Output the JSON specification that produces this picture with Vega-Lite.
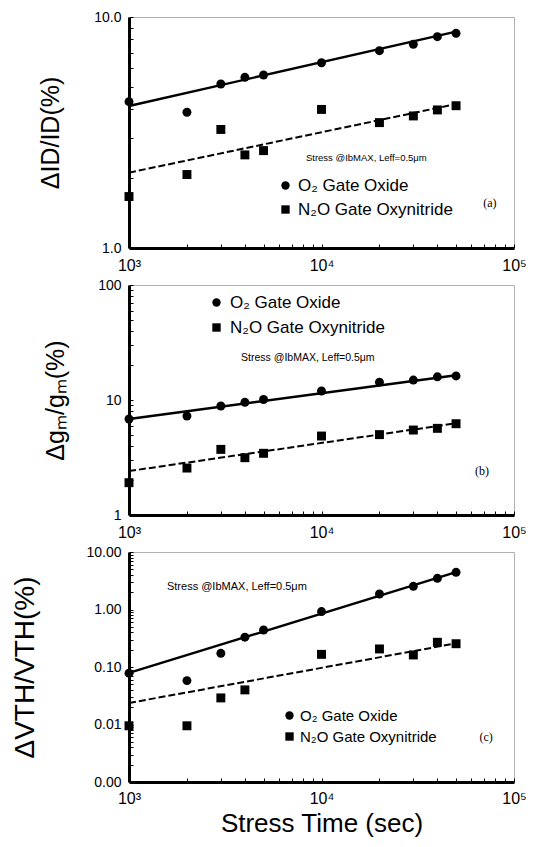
{
  "$schema": "https://vega.github.io/schema/vega-lite/v6.json",
  "background": "white",
  "padding": {"left": 10, "top": 9, "right": 5, "bottom": 3},
  "spacing": 37,
  "bounds": "flush",
  "config": {
    "font": "Liberation Sans",
    "view": {"stroke": "#b0b0b0", "strokeWidth": 1},
    "axis": {
      "grid": false,
      "domainColor": "black",
      "domainWidth": 3,
      "tickColor": "black",
      "tickWidth": 1,
      "labelColor": "black",
      "titleColor": "black",
      "labelFont": "Liberation Sans",
      "titleFont": "Liberation Sans",
      "titleFontWeight": "normal"
    },
    "legend": {"orient": "none", "title": null, "labelColor": "black", "padding": 0, "labelFont": "Liberation Sans", "labelLimit": 400}
  },
  "resolve": {
    "scale": {"x": "independent", "y": "independent", "shape": "independent"},
    "legend": {"shape": "independent"}
  },
  "datasets": {
    "pts": [
      {"panel": "a", "material": "O₂ Gate Oxide", "time": 1000, "value": 4.3},
      {"panel": "a", "material": "O₂ Gate Oxide", "time": 2000, "value": 3.87},
      {"panel": "a", "material": "O₂ Gate Oxide", "time": 3000, "value": 5.13},
      {"panel": "a", "material": "O₂ Gate Oxide", "time": 4000, "value": 5.48},
      {"panel": "a", "material": "O₂ Gate Oxide", "time": 5000, "value": 5.61},
      {"panel": "a", "material": "O₂ Gate Oxide", "time": 10000, "value": 6.34},
      {"panel": "a", "material": "O₂ Gate Oxide", "time": 20000, "value": 7.15},
      {"panel": "a", "material": "O₂ Gate Oxide", "time": 30000, "value": 7.62},
      {"panel": "a", "material": "O₂ Gate Oxide", "time": 40000, "value": 8.22},
      {"panel": "a", "material": "O₂ Gate Oxide", "time": 50000, "value": 8.5},
      {"panel": "a", "material": "N₂O Gate Oxynitride", "time": 1000, "value": 1.67},
      {"panel": "a", "material": "N₂O Gate Oxynitride", "time": 2000, "value": 2.08},
      {"panel": "a", "material": "N₂O Gate Oxynitride", "time": 3000, "value": 3.26},
      {"panel": "a", "material": "N₂O Gate Oxynitride", "time": 4000, "value": 2.53},
      {"panel": "a", "material": "N₂O Gate Oxynitride", "time": 5000, "value": 2.64},
      {"panel": "a", "material": "N₂O Gate Oxynitride", "time": 10000, "value": 3.98},
      {"panel": "a", "material": "N₂O Gate Oxynitride", "time": 20000, "value": 3.49},
      {"panel": "a", "material": "N₂O Gate Oxynitride", "time": 30000, "value": 3.73},
      {"panel": "a", "material": "N₂O Gate Oxynitride", "time": 40000, "value": 3.96},
      {"panel": "a", "material": "N₂O Gate Oxynitride", "time": 50000, "value": 4.13},
      {"panel": "b", "material": "O₂ Gate Oxide", "time": 1000, "value": 6.84},
      {"panel": "b", "material": "O₂ Gate Oxide", "time": 2000, "value": 7.26},
      {"panel": "b", "material": "O₂ Gate Oxide", "time": 3000, "value": 8.87},
      {"panel": "b", "material": "O₂ Gate Oxide", "time": 4000, "value": 9.55},
      {"panel": "b", "material": "O₂ Gate Oxide", "time": 5000, "value": 10.1},
      {"panel": "b", "material": "O₂ Gate Oxide", "time": 10000, "value": 11.97},
      {"panel": "b", "material": "O₂ Gate Oxide", "time": 20000, "value": 14.3},
      {"panel": "b", "material": "O₂ Gate Oxide", "time": 30000, "value": 14.9},
      {"panel": "b", "material": "O₂ Gate Oxide", "time": 40000, "value": 15.9},
      {"panel": "b", "material": "O₂ Gate Oxide", "time": 50000, "value": 16.2},
      {"panel": "b", "material": "N₂O Gate Oxynitride", "time": 1000, "value": 1.91},
      {"panel": "b", "material": "N₂O Gate Oxynitride", "time": 2000, "value": 2.56},
      {"panel": "b", "material": "N₂O Gate Oxynitride", "time": 3000, "value": 3.72},
      {"panel": "b", "material": "N₂O Gate Oxynitride", "time": 4000, "value": 3.15},
      {"panel": "b", "material": "N₂O Gate Oxynitride", "time": 5000, "value": 3.44},
      {"panel": "b", "material": "N₂O Gate Oxynitride", "time": 10000, "value": 4.86},
      {"panel": "b", "material": "N₂O Gate Oxynitride", "time": 20000, "value": 5.0},
      {"panel": "b", "material": "N₂O Gate Oxynitride", "time": 30000, "value": 5.48},
      {"panel": "b", "material": "N₂O Gate Oxynitride", "time": 40000, "value": 5.67},
      {"panel": "b", "material": "N₂O Gate Oxynitride", "time": 50000, "value": 6.22},
      {"panel": "c", "material": "O₂ Gate Oxide", "time": 1000, "value": 0.078},
      {"panel": "c", "material": "O₂ Gate Oxide", "time": 2000, "value": 0.058},
      {"panel": "c", "material": "O₂ Gate Oxide", "time": 3000, "value": 0.173},
      {"panel": "c", "material": "O₂ Gate Oxide", "time": 4000, "value": 0.33},
      {"panel": "c", "material": "O₂ Gate Oxide", "time": 5000, "value": 0.44},
      {"panel": "c", "material": "O₂ Gate Oxide", "time": 10000, "value": 0.92},
      {"panel": "c", "material": "O₂ Gate Oxide", "time": 20000, "value": 1.86},
      {"panel": "c", "material": "O₂ Gate Oxide", "time": 30000, "value": 2.53},
      {"panel": "c", "material": "O₂ Gate Oxide", "time": 40000, "value": 3.49},
      {"panel": "c", "material": "O₂ Gate Oxide", "time": 50000, "value": 4.43},
      {"panel": "c", "material": "N₂O Gate Oxynitride", "time": 1000, "value": 0.0095},
      {"panel": "c", "material": "N₂O Gate Oxynitride", "time": 2000, "value": 0.0095},
      {"panel": "c", "material": "N₂O Gate Oxynitride", "time": 3000, "value": 0.029},
      {"panel": "c", "material": "N₂O Gate Oxynitride", "time": 4000, "value": 0.04},
      {"panel": "c", "material": "N₂O Gate Oxynitride", "time": 10000, "value": 0.166},
      {"panel": "c", "material": "N₂O Gate Oxynitride", "time": 20000, "value": 0.206},
      {"panel": "c", "material": "N₂O Gate Oxynitride", "time": 30000, "value": 0.162},
      {"panel": "c", "material": "N₂O Gate Oxynitride", "time": 40000, "value": 0.269},
      {"panel": "c", "material": "N₂O Gate Oxynitride", "time": 50000, "value": 0.254}
    ],
    "fits": [
      {"panel": "a", "material": "O₂ Gate Oxide", "time": 1000, "value": 4.12},
      {"panel": "a", "material": "O₂ Gate Oxide", "time": 50000, "value": 8.64},
      {"panel": "a", "material": "N₂O Gate Oxynitride", "time": 1000, "value": 2.12},
      {"panel": "a", "material": "N₂O Gate Oxynitride", "time": 50000, "value": 4.2},
      {"panel": "b", "material": "O₂ Gate Oxide", "time": 1000, "value": 6.84},
      {"panel": "b", "material": "O₂ Gate Oxide", "time": 50000, "value": 16.4},
      {"panel": "b", "material": "N₂O Gate Oxynitride", "time": 1000, "value": 2.41},
      {"panel": "b", "material": "N₂O Gate Oxynitride", "time": 50000, "value": 6.27},
      {"panel": "c", "material": "O₂ Gate Oxide", "time": 1000, "value": 0.079},
      {"panel": "c", "material": "O₂ Gate Oxide", "time": 50000, "value": 4.45},
      {"panel": "c", "material": "N₂O Gate Oxynitride", "time": 1000, "value": 0.0237},
      {"panel": "c", "material": "N₂O Gate Oxynitride", "time": 50000, "value": 0.258}
    ],
    "notes": [
      {"panel": "a", "kind": "stress", "label": "Stress @IbMAX, Leff=0.5μm", "time": 8300, "value": 2.45},
      {"panel": "a", "kind": "tag", "label": "(a)", "time": 75000, "value": 1.57},
      {"panel": "b", "kind": "stress", "label": "Stress @IbMAX, Leff=0.5μm", "time": 3820, "value": 23.2},
      {"panel": "b", "kind": "tag", "label": "(b)", "time": 68200, "value": 2.41},
      {"panel": "c", "kind": "stress", "label": "Stress @IbMAX, Leff=0.5μm", "time": 1575, "value": 2.5},
      {"panel": "c", "kind": "tag", "label": "(c)", "time": 71600, "value": 0.00607}
    ]
  },
  "vconcat": [
    {
      "width": 385,
      "height": 231,
      "layer": [
        {"data": {"name": "fits"}, "transform": [{"filter": "datum.panel=='a' && datum.material=='O₂ Gate Oxide'"}],
          "mark": {"type": "line", "color": "black", "strokeWidth": 2.4},
          "encoding": {
            "x": {"field": "time", "type": "quantitative",
              "scale": {"type": "log", "domain": [1000, 100000]},
              "axis": {"title": null, "values": [1000,2000,3000,4000,5000,6000,7000,8000,9000,10000,20000,30000,40000,50000,60000,70000,80000,90000,100000],
                "labelExpr": "datum.value==1000?'10³':datum.value==10000?'10⁴':datum.value==100000?'10⁵':''",
                "tickSize": -4, "labelFontSize": 16, "labelPadding": 13, "labelFlush": false}},
            "y": {"field": "value", "type": "quantitative",
              "scale": {"type": "log", "domain": [1, 10]},
              "axis": {"title": "ΔID/ID(%)", "titleFontSize": 25, "titleX": -66,
                "values": [1,2,3,4,5,6,7,8,9,10],
                "labelExpr": "datum.value==10?'10.0':datum.value==1?'1.0':''",
                "tickSize": -4, "labelFontSize": 14, "labelPadding": 12}}}},
        {"data": {"name": "fits"}, "transform": [{"filter": "datum.panel=='a' && datum.material!='O₂ Gate Oxide'"}],
          "mark": {"type": "line", "color": "black", "strokeWidth": 2, "strokeDash": [7, 3]},
          "encoding": {"x": {"field": "time", "type": "quantitative"}, "y": {"field": "value", "type": "quantitative"}}},
        {"data": {"name": "pts"}, "transform": [{"filter": "datum.panel=='a'"}],
          "mark": {"type": "point", "filled": true, "color": "black", "opacity": 1, "size": 80},
          "encoding": {
            "x": {"field": "time", "type": "quantitative"},
            "y": {"field": "value", "type": "quantitative"},
            "shape": {"field": "material", "scale": {"domain": ["O₂ Gate Oxide", "N₂O Gate Oxynitride"], "range": ["circle", "square"]},
              "legend": {"legendX": 148, "legendY": 160, "labelFontSize": 17, "symbolSize": 70, "symbolFillColor": "black", "symbolStrokeColor": "black", "rowPadding": 6, "labelOffset": 4}}}},
        {"data": {"name": "notes"}, "transform": [{"filter": "datum.panel=='a' && datum.kind=='stress'"}],
          "mark": {"type": "text", "align": "left", "baseline": "middle", "fontSize": 9.5, "color": "black"},
          "encoding": {"x": {"field": "time", "type": "quantitative"}, "y": {"field": "value", "type": "quantitative"}, "text": {"field": "label"}}},
        {"data": {"name": "notes"}, "transform": [{"filter": "datum.panel=='a' && datum.kind=='tag'"}],
          "mark": {"type": "text", "align": "center", "baseline": "middle", "fontSize": 12, "font": "Liberation Serif", "color": "black"},
          "encoding": {"x": {"field": "time", "type": "quantitative"}, "y": {"field": "value", "type": "quantitative"}, "text": {"field": "label"}}}
      ]
    },
    {
      "width": 385,
      "height": 230,
      "layer": [
        {"data": {"name": "fits"}, "transform": [{"filter": "datum.panel=='b' && datum.material=='O₂ Gate Oxide'"}],
          "mark": {"type": "line", "color": "black", "strokeWidth": 2.4},
          "encoding": {
            "x": {"field": "time", "type": "quantitative",
              "scale": {"type": "log", "domain": [1000, 100000]},
              "axis": {"title": null, "values": [1000,2000,3000,4000,5000,6000,7000,8000,9000,10000,20000,30000,40000,50000,60000,70000,80000,90000,100000],
                "labelExpr": "datum.value==1000?'10³':datum.value==10000?'10⁴':datum.value==100000?'10⁵':''",
                "tickSize": -4, "labelFontSize": 16, "labelPadding": 13, "labelFlush": false}},
            "y": {"field": "value", "type": "quantitative",
              "scale": {"type": "log", "domain": [1, 100]},
              "axis": {"title": "Δgₘ/gₘ(%)", "titleFontSize": 25, "titleX": -61,
                "values": [1,2,3,4,5,6,7,8,9,10,20,30,40,50,60,70,80,90,100],
                "labelExpr": "datum.value==100?'100':datum.value==10?'10':datum.value==1?'1':''",
                "tickSize": -4, "labelFontSize": 14, "labelPadding": 12}}}},
        {"data": {"name": "fits"}, "transform": [{"filter": "datum.panel=='b' && datum.material!='O₂ Gate Oxide'"}],
          "mark": {"type": "line", "color": "black", "strokeWidth": 2, "strokeDash": [7, 3]},
          "encoding": {"x": {"field": "time", "type": "quantitative"}, "y": {"field": "value", "type": "quantitative"}}},
        {"data": {"name": "pts"}, "transform": [{"filter": "datum.panel=='b'"}],
          "mark": {"type": "point", "filled": true, "color": "black", "opacity": 1, "size": 80},
          "encoding": {
            "x": {"field": "time", "type": "quantitative"},
            "y": {"field": "value", "type": "quantitative"},
            "shape": {"field": "material", "scale": {"domain": ["O₂ Gate Oxide", "N₂O Gate Oxynitride"], "range": ["circle", "square"]},
              "legend": {"legendX": 79, "legendY": 9, "labelFontSize": 17, "symbolSize": 70, "symbolFillColor": "black", "symbolStrokeColor": "black", "rowPadding": 7, "labelOffset": 5}}}},
        {"data": {"name": "notes"}, "transform": [{"filter": "datum.panel=='b' && datum.kind=='stress'"}],
          "mark": {"type": "text", "align": "left", "baseline": "middle", "fontSize": 10.5, "color": "black"},
          "encoding": {"x": {"field": "time", "type": "quantitative"}, "y": {"field": "value", "type": "quantitative"}, "text": {"field": "label"}}},
        {"data": {"name": "notes"}, "transform": [{"filter": "datum.panel=='b' && datum.kind=='tag'"}],
          "mark": {"type": "text", "align": "center", "baseline": "middle", "fontSize": 12, "font": "Liberation Serif", "color": "black"},
          "encoding": {"x": {"field": "time", "type": "quantitative"}, "y": {"field": "value", "type": "quantitative"}, "text": {"field": "label"}}}
      ]
    },
    {
      "width": 385,
      "height": 230,
      "layer": [
        {"data": {"name": "fits"}, "transform": [{"filter": "datum.panel=='c' && datum.material=='O₂ Gate Oxide'"}],
          "mark": {"type": "line", "color": "black", "strokeWidth": 2.4},
          "encoding": {
            "x": {"field": "time", "type": "quantitative",
              "scale": {"type": "log", "domain": [1000, 100000]},
              "axis": {"title": "Stress Time (sec)", "titleFontSize": 26, "titlePadding": 4, "values": [1000,2000,3000,4000,5000,6000,7000,8000,9000,10000,20000,30000,40000,50000,60000,70000,80000,90000,100000],
                "labelExpr": "datum.value==1000?'10³':datum.value==10000?'10⁴':datum.value==100000?'10⁵':''",
                "tickSize": -4, "labelFontSize": 16, "labelPadding": 12, "labelFlush": false}},
            "y": {"field": "value", "type": "quantitative",
              "scale": {"type": "log", "domain": [0.001, 10]},
              "axis": {"title": "ΔVTH/VTH(%)", "titleFontSize": 28, "titleX": -90,
                "values": [0.001,0.002,0.003,0.004,0.005,0.006,0.007,0.008,0.009,0.01,0.02,0.03,0.04,0.05,0.06,0.07,0.08,0.09,0.1,0.2,0.3,0.4,0.5,0.6,0.7,0.8,0.9,1,2,3,4,5,6,7,8,9,10],
                "labelExpr": "datum.value==10?'10.00':datum.value==1?'1.00':datum.value==0.1?'0.10':datum.value==0.01?'0.01':datum.value==0.001?'0.00':''",
                "tickSize": -4, "labelFontSize": 14, "labelPadding": 12}}}},
        {"data": {"name": "fits"}, "transform": [{"filter": "datum.panel=='c' && datum.material!='O₂ Gate Oxide'"}],
          "mark": {"type": "line", "color": "black", "strokeWidth": 2, "strokeDash": [7, 3]},
          "encoding": {"x": {"field": "time", "type": "quantitative"}, "y": {"field": "value", "type": "quantitative"}}},
        {"data": {"name": "pts"}, "transform": [{"filter": "datum.panel=='c'"}],
          "mark": {"type": "point", "filled": true, "color": "black", "opacity": 1, "size": 80},
          "encoding": {
            "x": {"field": "time", "type": "quantitative"},
            "y": {"field": "value", "type": "quantitative"},
            "shape": {"field": "material", "scale": {"domain": ["O₂ Gate Oxide", "N₂O Gate Oxynitride"], "range": ["circle", "square"]},
              "legend": {"legendX": 153, "legendY": 156, "labelFontSize": 15, "symbolSize": 70, "symbolFillColor": "black", "symbolStrokeColor": "black", "rowPadding": 5, "labelOffset": 3}}}},
        {"data": {"name": "notes"}, "transform": [{"filter": "datum.panel=='c' && datum.kind=='stress'"}],
          "mark": {"type": "text", "align": "left", "baseline": "middle", "fontSize": 11, "color": "black"},
          "encoding": {"x": {"field": "time", "type": "quantitative"}, "y": {"field": "value", "type": "quantitative"}, "text": {"field": "label"}}},
        {"data": {"name": "notes"}, "transform": [{"filter": "datum.panel=='c' && datum.kind=='tag'"}],
          "mark": {"type": "text", "align": "center", "baseline": "middle", "fontSize": 12, "font": "Liberation Serif", "color": "black"},
          "encoding": {"x": {"field": "time", "type": "quantitative"}, "y": {"field": "value", "type": "quantitative"}, "text": {"field": "label"}}}
      ]
    }
  ]
}
